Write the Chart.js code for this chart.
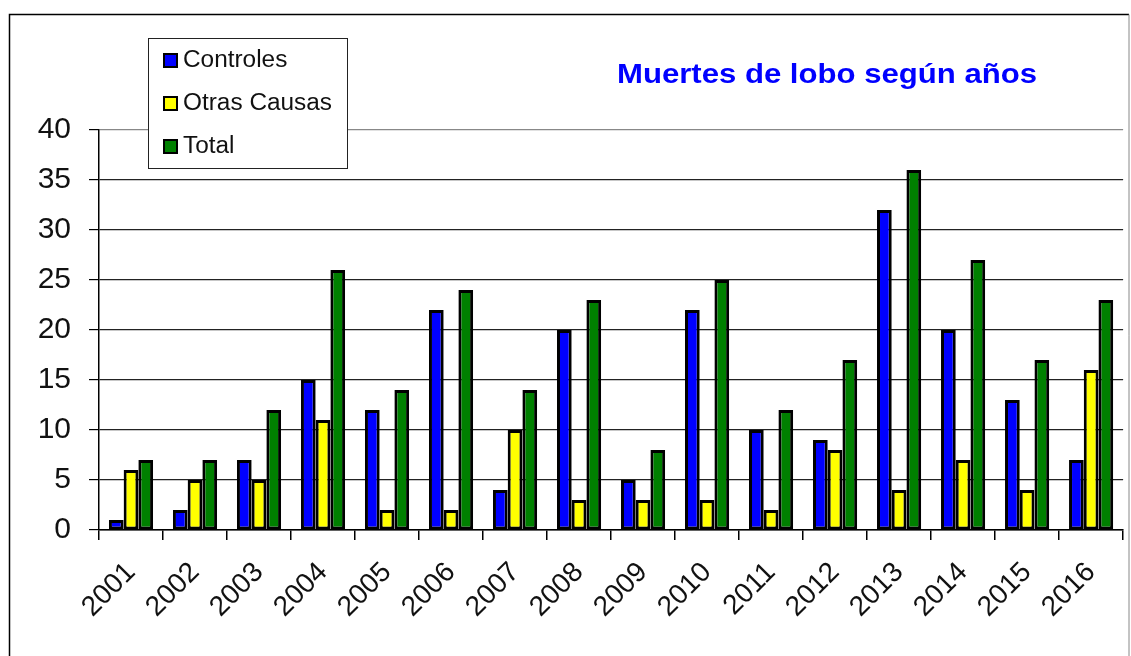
<!DOCTYPE html>
<html>
<head>
<meta charset="utf-8">
<script src="https://cdn.jsdelivr.net/npm/chart.js@4/dist/chart.umd.min.js"></script>
<style>
  html, body { margin: 0; padding: 0; background: #fff; }
  #wrap { width: 1131px; height: 656px; position: relative; }
</style>
</head>
<body>
<div id="wrap"><canvas id="c" width="1131" height="656"></canvas></div>
<script>
const years = ['2001','2002','2003','2004','2005','2006','2007','2008','2009','2010','2011','2012','2013','2014','2015','2016'];
const controles = [1, 2, 7, 15, 12, 22, 4, 20, 5, 22, 10, 9, 32, 20, 13, 7];
const otrasCausas = [6, 5, 5, 11, 2, 2, 10, 3, 3, 3, 2, 8, 4, 7, 4, 16];
const total = [7, 7, 12, 26, 14, 24, 14, 23, 8, 25, 12, 17, 36, 27, 17, 23];
const seriesNames = ['Controles', 'Otras Causas', 'Total'];
const seriesColors = ['#0000FF', '#FFFF00', '#008000'];
const titleText = 'Muertes de lobo según años';
const yTicks = [0, 5, 10, 15, 20, 25, 30, 35, 40];

const FONT = "'Liberation Sans', Arial, sans-serif";

const decor = {
  id: 'decor',
  afterDraw(chart) {
    const ctx = chart.ctx;
    ctx.save();
    // outer frame
    ctx.strokeStyle = '#000';
    ctx.lineWidth = 1.5;
    ctx.beginPath();
    ctx.moveTo(9.5, 660);
    ctx.lineTo(9.5, 14.5);
    ctx.lineTo(1129, 14.5);
    ctx.stroke();
    ctx.strokeStyle = '#888';
    ctx.lineWidth = 1;
    ctx.beginPath();
    ctx.moveTo(1129, 14.5);
    ctx.lineTo(1129, 660);
    ctx.stroke();

    // title (slightly widened like the original)
    ctx.save();
    ctx.fillStyle = '#0000FF';
    ctx.font = 'bold 28px ' + FONT;
    ctx.textAlign = 'center';
    ctx.textBaseline = 'middle';
    const tw = ctx.measureText(titleText).width;
    const sx = 420 / tw;
    ctx.translate(827, 75);
    ctx.scale(sx, 1);
    ctx.fillText(titleText, 0, 0);
    ctx.restore();

    // legend box
    ctx.fillStyle = '#fff';
    ctx.fillRect(148, 38, 199, 130);
    ctx.strokeStyle = '#222';
    ctx.lineWidth = 1;
    ctx.strokeRect(148.5, 38.5, 199, 130);
    const baselines = [67, 110, 153];
    ctx.font = '23px ' + FONT;
    ctx.textAlign = 'left';
    ctx.textBaseline = 'alphabetic';
    chart.data.datasets.forEach((ds, i) => {
      const yTop = baselines[i] - 13;
      ctx.fillStyle = ds.backgroundColor;
      ctx.fillRect(164, yTop, 13, 13);
      ctx.strokeStyle = '#000';
      ctx.lineWidth = 2;
      ctx.strokeRect(164, yTop, 13, 13);
      ctx.save();
      ctx.fillStyle = '#111';
      ctx.translate(183, baselines[i]);
      ctx.scale(1.06, 1);
      ctx.fillText(ds.label, 0, 0);
      ctx.restore();
    });
    ctx.restore();
  }
};

new Chart(document.getElementById('c'), {
  type: 'bar',
  data: {
    labels: years,
    datasets: [
      { label: seriesNames[0], data: controles, backgroundColor: seriesColors[0] },
      { label: seriesNames[1], data: otrasCausas, backgroundColor: seriesColors[1] },
      { label: seriesNames[2], data: total, backgroundColor: seriesColors[2] }
    ].map(d => Object.assign(d, { borderColor: '#000', borderWidth: 3, borderSkipped: false }))
  },
  options: {
    responsive: false,
    animation: false,
    devicePixelRatio: 1,
    categoryPercentage: 0.69,
    barPercentage: 1.0,
    layout: { padding: { left: 0, top: 130, right: 4, bottom: 0 } },
    plugins: {
      legend: { display: false },
      title: { display: false },
      tooltip: { enabled: false }
    },
    scales: {
      x: {
        grid: {
          offset: true,
          drawOnChartArea: false,
          drawTicks: true,
          tickLength: 10,
          color: '#000',
          lineWidth: 1.5
        },
        border: { color: '#000', width: 1.5 },
        ticks: {
          minRotation: 45,
          maxRotation: 45,
          padding: 16,
          color: '#111',
          font: { family: FONT, size: 28 }
        },
        afterFit(scale) { scale.height = 126; }
      },
      y: {
        min: 0,
        max: 40,
        afterBuildTicks(scale) { scale.ticks = yTicks.map(v => ({ value: v })); },
        grid: {
          color: ctx => (ctx.tick && ctx.tick.value === 40) ? '#888' : '#222',
          lineWidth: 1.2,
          tickLength: 10,
          tickColor: '#000'
        },
        border: { color: '#000', width: 1.5 },
        ticks: {
          padding: 18,
          color: '#111',
          font: { family: FONT, size: 30 }
        },
        afterFit(scale) { scale.width = 99; }
      }
    }
  },
  plugins: [decor]
});
</script>
</body>
</html>
